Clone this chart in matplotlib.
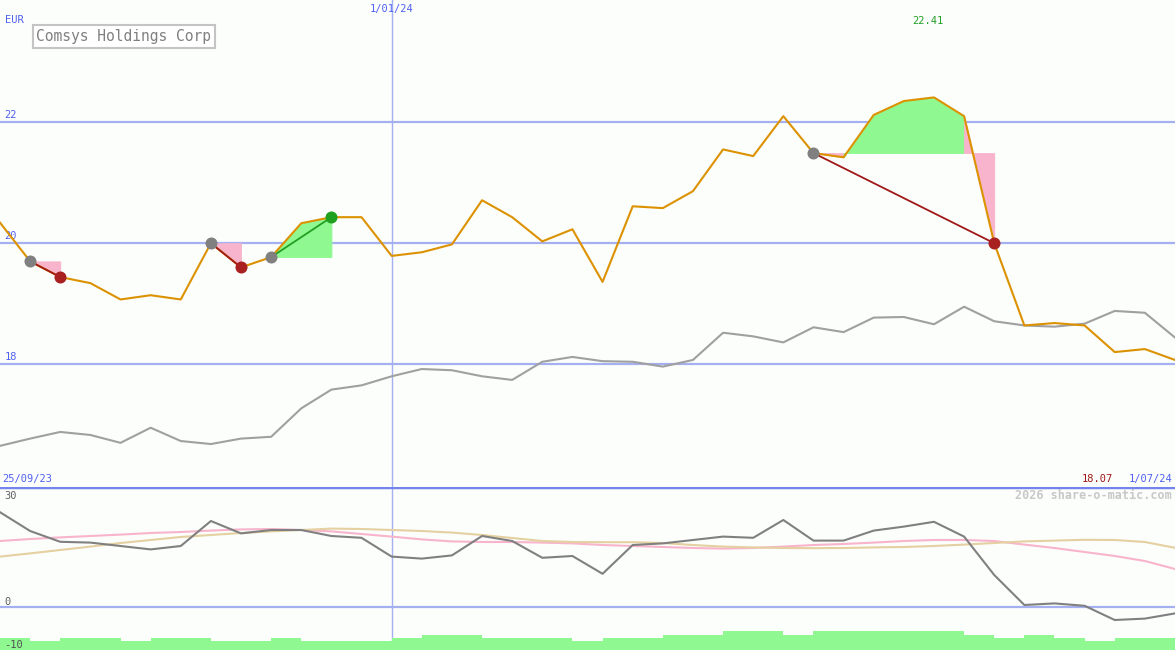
import numpy as np
import matplotlib.pyplot as plt
import matplotlib.transforms as mtrans

# weekly closes, Comsys Holdings Corp (EUR)
price = [20.34, 19.70, 19.44, 19.34, 19.07, 19.14, 19.07, 20.00, 19.60, 19.77,
         20.33, 20.43, 20.43, 19.79, 19.85, 19.98, 20.71, 20.43, 20.03, 20.23,
         19.36, 20.61, 20.58, 20.86, 21.55, 21.44, 22.10, 21.49, 21.42, 22.12,
         22.35, 22.41, 22.10, 20.00, 18.64, 18.68, 18.64, 18.20, 18.25, 18.07]

# comparison index (rescaled)
index_line = [16.65, 16.77, 16.88, 16.83, 16.70, 16.95, 16.73, 16.68, 16.77, 16.80,
              17.27, 17.58, 17.65, 17.80, 17.92, 17.90, 17.80, 17.74, 18.04, 18.12,
              18.05, 18.04, 17.96, 18.07, 18.52, 18.46, 18.36, 18.61, 18.53, 18.77,
              18.78, 18.66, 18.95, 18.71, 18.64, 18.62, 18.67, 18.88, 18.85, 18.44]

# lower panel
momentum = [23.7, 19.0, 16.3, 16.1, 15.25, 14.4, 15.25, 21.5, 18.4, 19.25,
            19.25, 17.75, 17.3, 12.6, 12.1, 12.9, 17.75, 16.5, 12.3, 12.75,
            8.3, 15.5, 15.9, 16.75, 17.6, 17.3, 21.75, 16.6, 16.6, 19.1,
            20.1, 21.3, 17.6, 8.0, 0.5, 0.9, 0.3, -3.25, -2.9, -1.6]
avg_fast = [16.5, 17.0, 17.4, 17.75, 18.1, 18.5, 18.75, 19.1, 19.4, 19.5,
            19.25, 18.9, 18.25, 17.6, 16.9, 16.4, 16.25, 16.25, 16.1, 15.9,
            15.5, 15.25, 15.0, 14.75, 14.6, 14.75, 15.1, 15.5, 15.75, 16.1,
            16.5, 16.75, 16.75, 16.5, 15.6, 14.75, 13.75, 12.75, 11.5, 9.5]
avg_slow = [12.6, 13.4, 14.25, 15.1, 16.0, 16.75, 17.5, 18.0, 18.5, 18.9,
            19.25, 19.6, 19.5, 19.25, 19.0, 18.6, 18.0, 17.25, 16.5, 16.25,
            16.2, 16.2, 16.0, 15.5, 15.1, 14.9, 14.75, 14.7, 14.75, 14.9,
            15.0, 15.25, 15.6, 16.0, 16.4, 16.6, 16.8, 16.75, 16.25, 14.8]
volume = [-7.75, -8.5, -7.75, -7.75, -8.5, -7.75, -7.75, -8.5, -8.5, -7.75,
          -8.5, -8.5, -8.5, -7.7, -7.0, -7.0, -7.7, -7.7, -7.7, -8.5,
          -7.7, -7.7, -7.0, -7.0, -6.0, -6.0, -7.0, -6.0, -6.0, -6.0,
          -6.0, -6.0, -7.0, -7.7, -7.0, -7.7, -8.5, -7.7, -7.7]

# trades: (buy week, sell week)
trades = [(1, 2), (7, 8), (9, 11), (27, 33)]

price_ticks = [18, 20, 22]
lower_ticks = [30, 0, -10]
date_labels = ['25/09/23', '1/01/24', '1/07/24']
date_mark = 13
title = 'Comsys Holdings Corp'

bg = '#fcfefc'
grid_c = '#a4b0f0'
blue_txt = '#5060f0'
mono = 'DejaVu Sans Mono'

x = np.arange(len(price))
price = np.array(price)

fig = plt.figure(figsize=(11.75, 6.5), dpi=100, facecolor=bg)
ax = fig.add_axes([0, 163 / 650, 1, 487 / 650])
ax2 = fig.add_axes([0, 0, 1, 163 / 650])
for a in (ax, ax2):
    a.set_facecolor(bg)
    a.set_xlim(0, len(price) - 1)
    a.axis('off')

ax.set_ylim(15.97, 24.02)
ax2.set_ylim(-10.75, 30)

tr1 = mtrans.blended_transform_factory(ax.transAxes, ax.transData)
tr1x = mtrans.blended_transform_factory(ax.transData, ax.transAxes)
tr2 = mtrans.blended_transform_factory(ax2.transAxes, ax2.transData)

# grid
for t in price_ticks:
    ax.axhline(t, color=grid_c, lw=1.6, zorder=1)
    ax.text(0.004, t + 0.04, str(t), transform=tr1,
            color=blue_txt, fontsize=7.5, family=mono, va='bottom', ha='left')
ax.axvline(date_mark, color=grid_c, lw=1, zorder=1)
ax2.axvline(date_mark, color=grid_c, lw=1, zorder=1)
ax2.axhline(0, color=grid_c, lw=1.6, zorder=1)
ax2.axhline(30, color='#7484ee', lw=2.5, zorder=5)

# trades
for b, s in trades:
    lvl = price[b]
    for i in range(b, s):
        seg = price[i:i + 2]
        c = '#90f890' if seg[1] > lvl else '#f8b4cc'
        ax.fill_between(x[i:i + 2], seg, lvl, facecolor=c, edgecolor=c, lw=0.6, zorder=2)

ax.plot(x, index_line, color='#a0a0a0', lw=1.5, zorder=3)
ax.plot(x, price, color='#dc9200', lw=1.5, zorder=4)

for b, s in trades:
    win = price[s] > price[b]
    lc = '#22a022' if win else '#a01818'
    ax.plot([b, s], [price[b], price[s]], color=lc, lw=1.3, zorder=5)
    ax.scatter([b], [price[b]], s=75, color='#808080', zorder=6, lw=0)
    ax.scatter([s], [price[s]], s=75, color='#20a020' if win else '#a82020', zorder=6, lw=0)

# labels upper
ax.text(0.004, 0.959, 'EUR', transform=ax.transAxes, color=blue_txt, fontsize=7.5, family=mono, va='center')
ax.text(date_mark, 0.9815, date_labels[1], transform=tr1x,
        color=blue_txt, fontsize=7.5, family=mono, ha='center', va='center')
imax = int(np.argmax(price))
ax.text(imax - 0.2, 0.946, f'{price[imax]:.2f}', transform=tr1x,
        color='#20a020', fontsize=7.5, family=mono, ha='center', va='bottom')
ax.text(0.002, 0.006, date_labels[0], transform=ax.transAxes, color=blue_txt, fontsize=7.5, family=mono, va='bottom')
ax.text(0.998, 0.006, date_labels[2], transform=ax.transAxes, color=blue_txt, fontsize=7.5, family=mono,
        va='bottom', ha='right')
ax.text(0.947, 0.006, f'{price[-1]:.2f}', transform=ax.transAxes, color='#a01818', fontsize=7.5, family=mono,
        va='bottom', ha='right')
ax.text(0.031, 0.925, title, transform=ax.transAxes, color='#808080', fontsize=10.5, family=mono, va='center',
        bbox=dict(facecolor='white', edgecolor='#c4c4c4', lw=1.5, boxstyle='square,pad=0.25'))

# lower panel
ax2.bar(x[:-1], np.array(volume) + 10.75, bottom=-10.75, width=1, align='edge', color='#90f890', lw=0, zorder=2)
ax2.plot(x, avg_fast, color='#f8b4cc', lw=1.5, zorder=3)
ax2.plot(x, avg_slow, color='#e4d0a0', lw=1.5, zorder=3)
ax2.plot(x, momentum, color='#808080', lw=1.5, zorder=4)
ax2.text(0.004, 0.945, str(lower_ticks[0]), transform=ax2.transAxes,
         color='#606060', fontsize=7.5, family=mono, va='center', zorder=6)
ax2.text(0.004, lower_ticks[1] + 1.3, str(lower_ticks[1]), transform=tr2,
         color='#606060', fontsize=7.5, family=mono, va='center', zorder=6)
ax2.text(0.004, lower_ticks[2] + 0.5, str(lower_ticks[2]), transform=tr2,
         color='#505050', fontsize=7.5, family=mono, va='center', zorder=6)
ax2.text(0.997, 0.945, '2026 share-o-matic.com', transform=ax2.transAxes, color='#c8c8c8', fontsize=8.5,
         family=mono, weight='bold', ha='right', va='center')

fig.savefig('out.png', dpi=100, facecolor=bg)
